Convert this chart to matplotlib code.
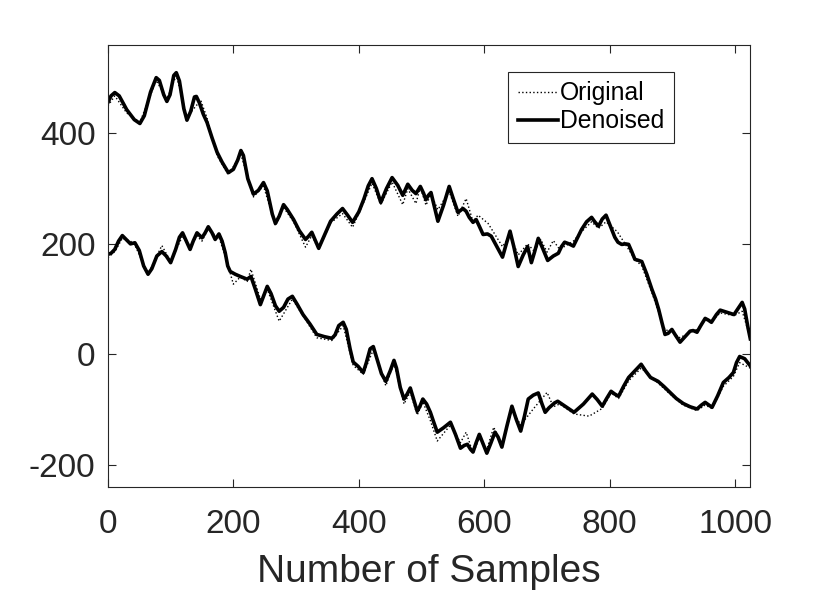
import matplotlib
matplotlib.use('Agg')
import matplotlib.pyplot as plt

plt.rcParams['font.family'] = ['Liberation Sans', 'DejaVu Sans']
plt.rcParams['axes.unicode_minus'] = False

# upper signal, denoised (knots)
up_x = [0, 5, 11, 18, 30, 42, 51, 58, 68, 77, 82, 89, 94, 99, 105, 109, 114, 121, 126, 132,
        138, 141, 146, 152, 158, 166, 174, 182, 192, 200, 207, 212, 216, 223, 232, 240, 248, 254,
        262, 267, 273, 280, 286, 296, 305, 315, 320, 325, 330, 336, 345, 355, 365, 374, 382, 390,
        400, 408, 415, 421, 428, 435, 444, 453, 462, 470, 474, 478, 485, 491, 498, 503, 507, 511,
        515, 521, 526, 535, 544, 551, 558, 566, 571, 576, 582, 587, 592, 598, 605, 611, 620, 629,
        635, 641, 647, 654, 662, 669, 675, 680, 686, 693, 701, 710, 718, 723, 728, 735, 742, 748,
        755, 763, 771, 776, 782, 788, 794, 801, 808, 813, 819, 825, 830, 835, 840, 846, 851, 859,
        867, 873, 878, 883, 888, 893, 899, 905, 912, 920, 928, 933, 939, 945, 952, 957, 962, 970,
        976, 987, 998, 1005, 1011, 1015, 1020, 1024]
up_den = [456, 468, 474, 468, 443, 425, 418, 432, 475, 501, 496, 470, 458, 470, 505, 510, 495, 445, 424, 440,
          466, 467, 455, 435, 420, 392, 366, 348, 329, 335, 352, 369, 360, 318, 290, 297, 311, 296,
          254, 237, 250, 271, 262, 244, 224, 208, 214, 221, 208, 192, 215, 241, 254, 264, 252, 239,
          258, 281, 305, 318, 300, 275, 300, 320, 306, 288, 298, 308, 297, 291, 304, 292, 280, 288,
          293, 265, 241, 270, 304, 280, 257, 264, 259, 248, 239, 244, 232, 217, 218, 214, 195, 176,
          200, 223, 195, 159, 180, 195, 166, 185, 210, 192, 170, 178, 183, 195, 203, 200, 196, 210,
          226, 240, 248, 240, 232, 245, 252, 232, 212, 203, 199, 200, 199, 186, 172, 170, 168, 145,
          118, 100, 81, 58, 36, 38, 45, 34, 22, 32, 42, 43, 40, 52, 65, 62, 58, 72,
          80, 76, 72, 84, 94, 82, 50, 28]

# upper signal, original
uo_x = [0, 11, 30, 51, 77, 94, 109, 126, 148, 158, 174, 192, 212, 232, 248, 267, 280, 296,
        315, 325, 336, 355, 374, 390, 408, 421, 435, 453, 470, 478, 491, 498, 507, 515, 526,
        544, 558, 571, 582, 590, 606, 629, 641, 654, 669, 680, 690, 700, 710, 720, 742, 755,
        771, 782, 794, 812, 830, 840, 851, 867, 878, 888, 899, 912, 928, 939,
        952, 962, 976, 998, 1011, 1024]
up_org = [450, 468, 437, 420, 496, 462, 505, 430, 460, 428, 360, 325, 362, 285, 305, 233, 266, 240,
          194, 215, 190, 238, 255, 230, 276, 310, 272, 312, 271, 300, 273, 303, 270, 290, 262,
          295, 250, 282, 240, 252, 237, 195, 215, 180, 200, 186, 208, 185, 206, 190, 205, 222,
          240, 228, 240, 222, 190, 172, 160, 112, 76, 45, 40, 30, 40, 45,
          62, 60, 75, 70, 78, 30]

# lower signal, denoised
lo_x = [0, 5, 11, 17, 23, 30, 36, 43, 50, 57, 64, 70, 78, 86, 93, 100, 108, 114, 119, 125,
        131, 136, 142, 150, 155, 160, 166, 171, 177, 182, 187, 191, 195, 203, 211, 222, 228, 235,
        243, 248, 254, 260, 267, 273, 280, 287, 294, 302, 311, 322, 333, 345, 357, 362, 368, 375,
        380, 386, 391, 399, 407, 412, 418, 423, 428, 436, 443, 450, 456, 460, 466, 472, 477, 482,
        487, 493, 497, 502, 508, 514, 520, 525, 535, 546, 554, 562, 568, 573, 578, 582, 587, 592,
        598, 604, 610, 617, 622, 628, 636, 644, 651, 658, 664, 670, 678, 686, 692, 697, 703, 708,
        712, 717, 730, 743, 758, 772, 780, 788, 795, 802, 808, 814, 822, 830, 840, 850, 857, 865,
        877, 886, 896, 906, 917, 928, 939, 946, 952, 958, 963, 972, 981, 990, 997, 1002, 1007, 1015,
        1024]
lo_den = [181, 183, 190, 205, 215, 207, 200, 202, 188, 160, 145, 155, 178, 186, 178, 166, 190, 212, 220, 205,
          190, 205, 220, 211, 220, 231, 220, 208, 218, 205, 184, 160, 150, 145, 141, 136, 141, 118,
          90, 105, 123, 110, 88, 78, 85, 100, 105, 90, 72, 55, 36, 32, 29, 35, 52, 58,
          45, 10, -14, -22, -33, -15, 10, 14, -5, -35, -49, -30, -11, -25, -60, -81, -72, -61,
          -80, -103, -95, -81, -90, -105, -125, -141, -133, -123, -145, -170, -165, -163, -172, -177, -160, -145,
          -162, -179, -162, -141, -150, -168, -130, -94, -118, -139, -112, -81, -74, -70, -90, -105, -97, -92,
          -88, -85, -95, -105, -90, -72, -82, -94, -80, -67, -72, -76, -58, -42, -30, -18, -30, -42,
          -49, -58, -69, -80, -89, -95, -99, -92, -87, -92, -96, -75, -51, -42, -33, -15, -4, -8,
          -21]

# lower signal, original
lo_ox = [0, 11, 23, 36, 43, 64, 86, 100, 119, 131, 142, 150, 160, 171, 177, 187, 200, 211,
         222, 228, 243, 254, 273, 294, 311, 333, 357, 375, 391, 407, 423, 443, 456, 472, 482,
         493, 502, 514, 525, 546, 562, 571, 582, 592, 604, 615, 628, 644, 658, 678, 700, 710,
         720, 743, 767, 788, 802, 814, 830, 850, 865, 877, 896, 917, 939, 952, 963, 981,
         997, 1007, 1024]
lo_org = [175, 186, 210, 205, 198, 145, 197, 168, 214, 196, 214, 205, 228, 215, 212, 178, 127, 140,
          132, 154, 100, 118, 60, 100, 70, 30, 25, 52, -20, -36, 8, -57, -16, -90, -68,
          -110, -86, -120, -157, -128, -160, -141, -179, -152, -172, -132, -165, -100, -128, -99, -69, -95,
          -90, -108, -112, -98, -70, -80, -48, -25, -40, -52, -72, -92, -102, -92, -98, -58,
          -40, -15, -25]

fig = plt.figure(figsize=(8.3, 5.93), dpi=100)
ax = fig.add_axes([0.130, 0.179, 0.774, 0.745])

ax.plot(uo_x, up_org, color='black', linestyle=':', linewidth=1.0, label='Original')
ax.plot(up_x, up_den, color='black', linestyle='-', linewidth=2.6, label='Denoised',
        solid_joinstyle='round')
ax.plot(lo_ox, lo_org, color='black', linestyle=':', linewidth=1.0)
ax.plot(lo_x, lo_den, color='black', linestyle='-', linewidth=2.6, solid_joinstyle='round')

ax.set_xlim(0, 1024)
ax.set_ylim(-240, 560)
ax.set_xticks([0, 200, 400, 600, 800, 1000])
ax.set_yticks([-200, 0, 200, 400])

axcol = '#262626'
for s in ax.spines.values():
    s.set_color(axcol)
    s.set_linewidth(0.8)
ax.tick_params(direction='in', length=6, width=0.8, colors=axcol, labelsize=24,
               top=True, right=True)
ax.tick_params(axis='x', pad=16)
ax.tick_params(axis='y', pad=9)
ax.set_xlabel('Number of Samples', fontsize=28, color=axcol, labelpad=10)

leg = ax.legend(loc='upper right', bbox_to_anchor=(0.881, 0.94), fontsize=17.8,
                frameon=True, fancybox=False, edgecolor=axcol, framealpha=1,
                handlelength=1.6, handletextpad=0.08, borderpad=0.4, labelspacing=0.15,
                borderaxespad=0)
leg.get_frame().set_linewidth(0.8)

fig.savefig('out.png', dpi=100)
